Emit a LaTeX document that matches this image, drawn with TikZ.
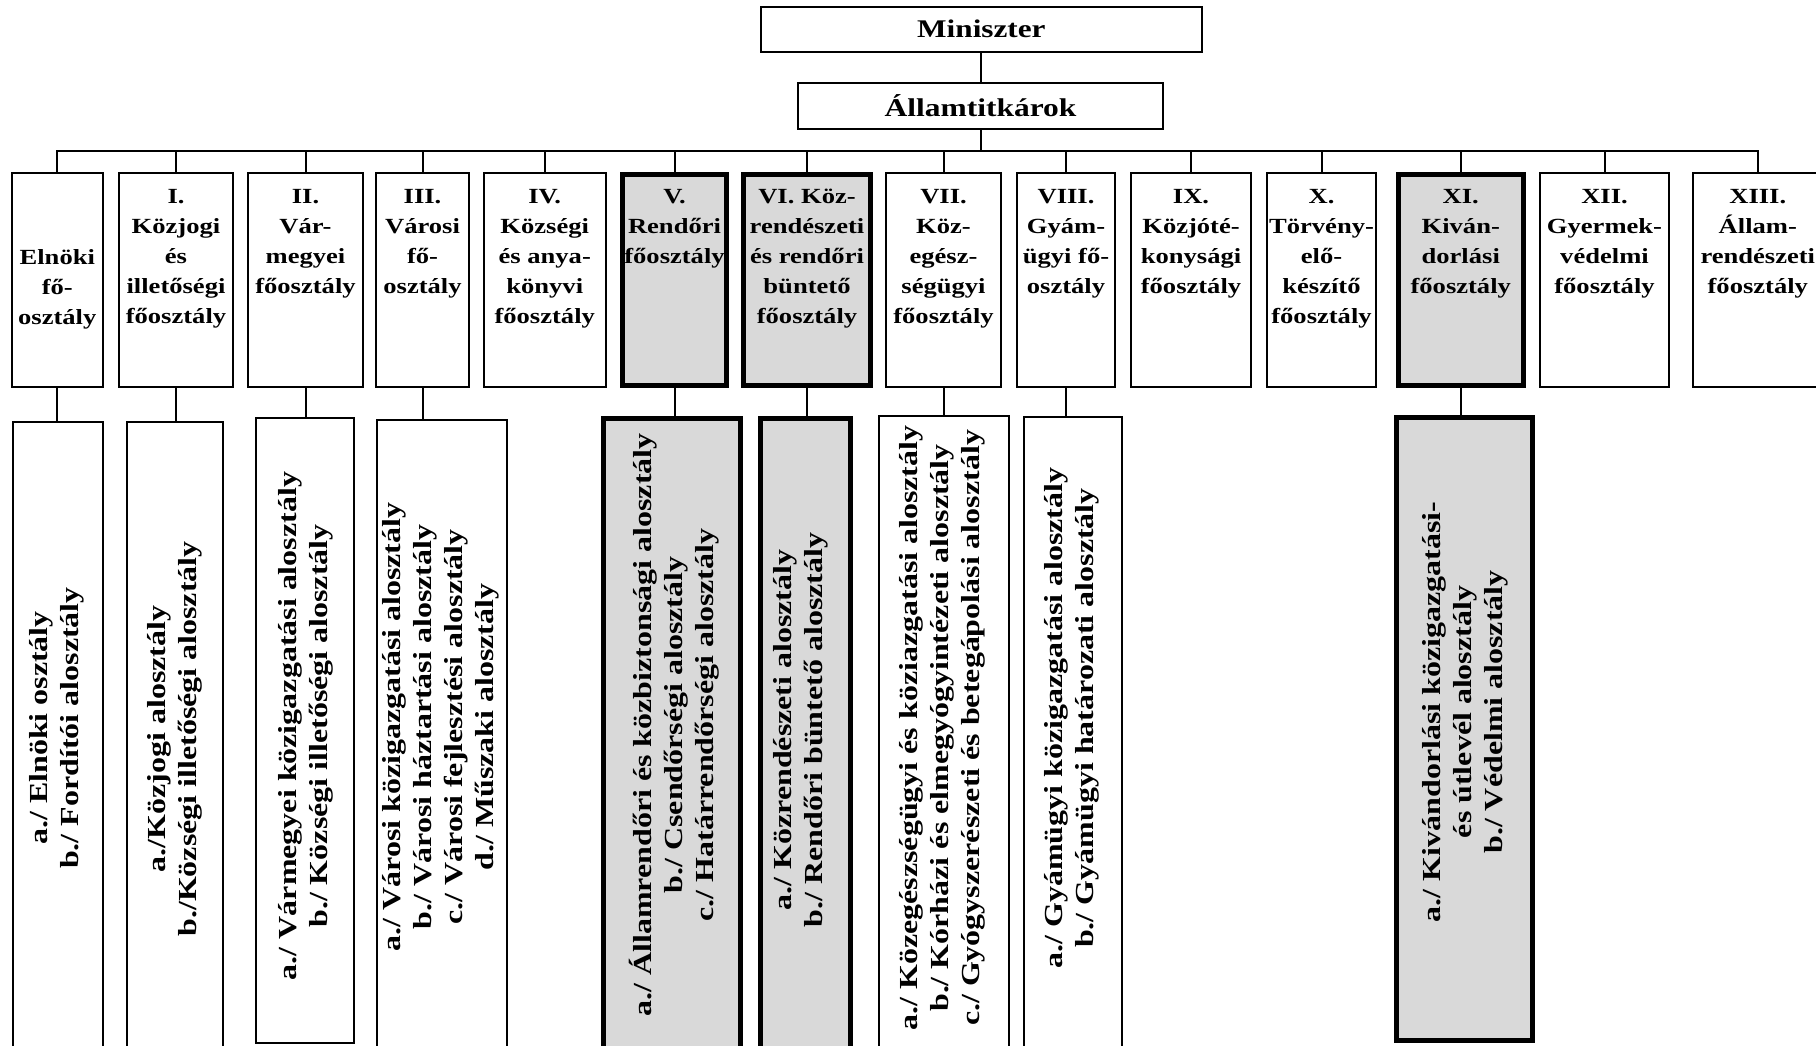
\documentclass[tikz,border=0pt]{standalone}
\usepackage{fontspec}
\setmainfont{Liberation Serif}[FakeStretch=1.23]
\definecolor{boxgray}{HTML}{D9D9D9}

\begin{document}
\begin{tikzpicture}[x=0.5pt,y=-0.5pt,
  box/.style={draw,line width=1pt,inner sep=0pt,outer sep=0pt},
  hot/.style={draw,line width=2.5pt,fill=boxgray,inner sep=0pt,outer sep=0pt},
  head/.style={font=\bfseries\fontsize{10.8}{15}\selectfont,align=center,anchor=north,inner sep=0pt,
    execute at begin node={\rule{0pt}{11pt}}},
  sub/.style={font=\bfseries\fontsize{13}{15.5}\selectfont,align=center,rotate=90,inner sep=0pt},
  link/.style={line width=1pt}]
\useasboundingbox (0,0) rectangle (1816,1045);

% top of the ministry
\node[box,minimum width=220.5pt,minimum height=22.5pt,font=\bfseries\fontsize{12.7}{15}\selectfont] (min) at (981.4,29) {Miniszter};
\node[box,minimum width=182.5pt,minimum height=23pt,font=\bfseries\fontsize{12.8}{15}\selectfont] (all) at (980.5,106) {Államtitkárok};
\coordinate (bus) at (981,151);

% main departments
\node[box,minimum width=45.7pt,minimum height=107pt] (b1) at (57.3,280) {};
\node[box,minimum width=57pt,minimum height=107pt] (b2) at (176,280) {};
\node[box,minimum width=57.5pt,minimum height=107pt] (b3) at (305.5,280) {};
\node[box,minimum width=46.5pt,minimum height=107pt] (b4) at (422.5,280) {};
\node[box,minimum width=61.25pt,minimum height=107pt] (b5) at (544.75,280) {};
\node[hot,minimum width=52pt,minimum height=105.5pt] (b6) at (674.5,280) {};
\node[hot,minimum width=63.5pt,minimum height=105.5pt] (b7) at (807,280) {};
\node[box,minimum width=57.5pt,minimum height=107pt] (b8) at (943.5,280) {};
\node[box,minimum width=49pt,minimum height=107pt] (b9) at (1066,280) {};
\node[box,minimum width=60pt,minimum height=107pt] (b10) at (1191,280) {};
\node[box,minimum width=54.5pt,minimum height=107pt] (b11) at (1321.5,280) {};
\node[hot,minimum width=62.75pt,minimum height=105.5pt] (b12) at (1460.75,280) {};
\node[box,minimum width=64.5pt,minimum height=107pt] (b13) at (1604.5,280) {};
\node[box,minimum width=65.2pt,minimum height=107pt] (b14) at (1757.8,280) {};

\node[head] (t1) at (57.3,249) {Elnöki\\fő-\\osztály};
\node[head] (t2) at (176,189) {I.\\Közjogi\\és\\illetőségi\\főosztály};
\node[head] (t3) at (305.5,189) {II.\\Vár-\\megyei\\főosztály};
\node[head] (t4) at (422.5,189) {III.\\Városi\\fő-\\osztály};
\node[head] (t5) at (544.75,189) {IV.\\Községi\\és anya-\\könyvi\\főosztály};
\node[head] (t6) at (674.5,189) {V.\\Rendőri\\főosztály};
\node[head] (t7) at (807,189) {VI. Köz-\\rendészeti\\és rendőri\\büntető\\főosztály};
\node[head] (t8) at (943.5,189) {VII.\\Köz-\\egész-\\ségügyi\\főosztály};
\node[head] (t9) at (1066,189) {VIII.\\Gyám-\\ügyi fő-\\osztály};
\node[head] (t10) at (1191,189) {IX.\\Közjóté-\\konysági\\főosztály};
\node[head] (t11) at (1321.5,189) {X.\\Törvény-\\elő-\\készítő\\főosztály};
\node[head] (t12) at (1460.75,189) {XI.\\Kiván-\\dorlási\\főosztály};
\node[head] (t13) at (1604.5,189) {XII.\\Gyermek-\\védelmi\\főosztály};
\node[head] (t14) at (1757.8,189) {XIII.\\Állam-\\rendészeti\\főosztály};

% sub-departments
\node[box,minimum width=44.6pt,minimum height=315pt] (s1) at (58,737) {};
\node[box,minimum width=48pt,minimum height=315pt] (s2) at (175,737) {};
\node[box,minimum width=49.2pt,minimum height=312.5pt] (s3) at (304.8,730.5) {};
\node[box,minimum width=65pt,minimum height=316pt] (s4) at (442,736) {};
\node[hot,minimum width=68.25pt,minimum height=316.75pt] (s6) at (671.8,735.25) {};
\node[hot,minimum width=44.75pt,minimum height=316.75pt] (s7) at (805.25,735.25) {};
\node[box,minimum width=65pt,minimum height=318pt] (s8) at (944,734) {};
\node[box,minimum width=48.75pt,minimum height=317.5pt] (s9) at (1072.75,734.5) {};
\node[hot,minimum width=68pt,minimum height=311.5pt] (s12) at (1464.5,729) {};

\node[sub] (u1) at (57,728) {a./ Elnöki osztály\\b./ Fordítói alosztály};
\node[sub] (u2) at (175,739) {a./Közjogi alosztály\\b./Községi illetőségi alosztály};
\node[sub] (u3) at (306,726) {a./ Vármegyei közigazgatási alosztály\\b./ Községi illetőségi alosztály};
\node[sub] (u4) at (441,727) {a./ Városi közigazgatási alosztály\\b./ Városi háztartási alosztály\\c./ Városi fejlesztési alosztály\\d./ Műszaki alosztály};
\node[sub] (u6) at (674,725) {a./ Államrendőri és közbiztonsági alosztály\\b./ Csendőrségi alosztály\\c./ Határrendőrségi alosztály};
\node[sub] (u7) at (801,730) {a./ Közrendészeti alosztály\\b./ Rendőri büntető alosztály};
\node[sub] (u8) at (942,728) {a./ Közegészségügyi és köziazgatási alosztály\\b./ Kórházi és elmegyógyintézeti alosztály\\c./ Gyógyszerészeti és betegápolási alosztály};
\node[sub] (u9) at (1071.5,718) {a./ Gyámügyi közigazgatási alosztály\\b./ Gyámügyi határozati alosztály};
\node[sub] (u12) at (1465,712) {a./ Kivándorlási közigazgatási-\\és útlevél alosztály\\b./ Védelmi alosztály};

% connectors
\draw[link] (min.south) -- (min.south |- all.north);
\draw[link] (all.south) -- (all.south |- bus);
\draw[link] (b1.north) |- (bus) -| (b14.north);
\foreach \i in {2,...,13}
  \draw[link] (b\i.north) -- (b\i.north |- bus);
\foreach \i in {1,2,3,4,6,7,8,9,12}
  \draw[link] (b\i.south) -- (b\i.south |- s\i.north);

\end{tikzpicture}
\end{document}
